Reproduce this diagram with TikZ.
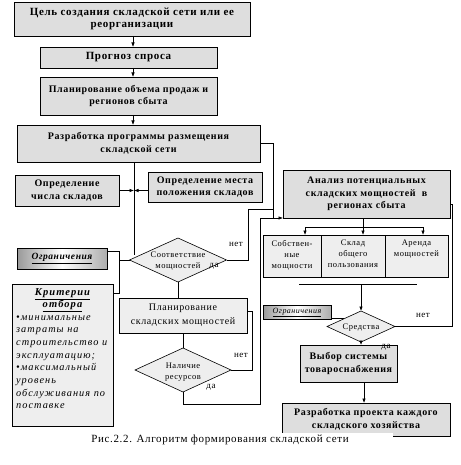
\documentclass[tikz,border=0pt]{standalone}
\usepackage{fontspec}
\setmainfont{Liberation Serif}
\newfontfamily\ls[LetterSpace=6]{Liberation Serif}
\newfontfamily\lsw[LetterSpace=10]{Liberation Serif}
\usetikzlibrary{shapes.geometric,arrows.meta}
\definecolor{marble}{RGB}{222,222,222}
\definecolor{dots}{RGB}{238,238,238}
\tikzset{
  box/.style={draw, fill=marble, line width=0.9pt, inner sep=0pt, outer sep=0pt, align=center,
    font=\ls\bfseries\fontsize{10}{12.7}\selectfont},
  bigbox/.style={box, font=\ls\bfseries\fontsize{11}{12.7}\selectfont},
  dbox/.style={draw, fill=dots, line width=0.6pt, inner sep=0pt, outer sep=0pt, align=center,
    font=\ls\fontsize{8.5}{11.5}\selectfont},
  dia/.style={diamond, draw, fill=dots, line width=0.6pt, inner sep=0pt, outer sep=0pt},
  diatext/.style={align=center, inner sep=0pt, font=\ls\fontsize{8.5}{11}\selectfont},
  limbox/.style={draw, line width=0.8pt, left color=gray!80, right color=gray!65, middle color=white,
    inner sep=0pt, outer sep=0pt},
  ln/.style={line width=0.6pt},
  arr/.style={ln, -{Latex[length=4.5pt,width=3.5pt]}},
  lbl/.style={inner sep=0pt, font=\ls\fontsize{9}{10}\selectfont},
}
\begin{document}
\begin{tikzpicture}[x=1pt,y=-1pt]
\useasboundingbox (0,0) rectangle (460,465);

% main column
\node[bigbox, minimum width=236pt, minimum height=34pt] (goal) at (132,19)
  {Цель создания складской сети или ее\\реорганизации};
\node[bigbox, minimum width=177pt, minimum height=21pt] (prog) at (128.5,57.5) {Прогноз спроса};
\node[box, minimum width=177pt, minimum height=38pt] (plan1) at (128.5,96)
  {Планирование объема продаж и\\регионов сбыта};
\node[box, minimum width=243pt, minimum height=37pt] (dev) at (138.5,143.5)
  {Разработка программы размещения\\складской сети};
\node[box, minimum width=104pt, minimum height=31pt] (num) at (67,190.5)
  {Определение\\числа складов};
\node[box, minimum width=114pt, minimum height=30pt] (loc) at (205,187)
  {Определение места\\положения складов};

% left side
\node[limbox, minimum width=90pt, minimum height=21pt,
  font=\ls\bfseries\itshape\fontsize{9.5}{10}\selectfont] (lim1) at (62,258.5) {\underline{Ограничения}};
\node[draw, fill=dots, line width=0.8pt, minimum width=101pt, minimum height=142pt,
  inner sep=0pt, outer sep=0pt] (crit) at (62.5,355) {};
\node[inner sep=0pt, align=center, anchor=north,
  font=\lsw\bfseries\itshape\fontsize{10.5}{12.7}\selectfont] (crittitle) at (62.5,288)
  {\underline{Критерии}\\\underline{отбора}};
\node[inner sep=0pt, align=left, anchor=north west,
  font=\lsw\itshape\fontsize{10.3}{12.7}\selectfont] (crittext) at (16,315)
  {•минимальные\\затраты на\\строительство и\\эксплуатацию;\\•максимальный\\уровень\\обслуживания по\\поставке};

% middle decisions
\node[dia, minimum width=97pt, minimum height=44pt] (match) at (178,260) {};
\node[diatext] at (178,261.5) {Соответствие\\мощностей};
\node[dbox, minimum width=128pt, minimum height=35pt, font=\ls\fontsize{10}{14}\selectfont] (plan2) at (183,315.5)
  {Планирование\\складских мощностей};
\node[dia, minimum width=96pt, minimum height=44pt] (res) at (183,370) {};
\node[diatext] at (183,372) {Наличие\\ресурсов};

% right side
\node[box, minimum width=167pt, minimum height=48pt] (anal) at (366.5,194)
  {Анализ потенциальных\\складских мощностей\ \ в\\регионах сбыта};
\node[dbox, minimum width=58pt, minimum height=42pt] (own) at (292,256) {};
\node[dbox, minimum width=64pt, minimum height=42pt] (pub) at (353,256) {};
\node[dbox, minimum width=63pt, minimum height=42pt] (rent) at (416.5,256) {};
\node[diatext, anchor=north] at (292,240) {Собствен-\\ные\\мощности};
\node[diatext, anchor=north] at (353,240) {Склад\\общего\\пользования};
\node[diatext, anchor=north] at (416.5,240) {Аренда\\мощностей};
\node[limbox, minimum width=68pt, minimum height=14pt,
  font=\ls\itshape\fontsize{8}{9}\selectfont] (lim2) at (297,312.5) {\underline{Ограничения}};
\node[dia, minimum width=68pt, minimum height=31pt] (means) at (361,326.5) {};
\node[diatext] at (361,328) {Средства};
\node[box, minimum width=97pt, minimum height=37pt] (choice) at (348.5,363.5)
  {Выбор системы\\товароснабжения};
\node[box, minimum width=168pt, minimum height=33pt] (proj) at (366,419.5)
  {Разработка проекта каждого\\складского хозяйства};

% coordinates
\coordinate (cx) at (133,0);
\coordinate (c1) at (134,0);
\coordinate (m1) at (134,255);
\coordinate (j1) at (273,219);
\coordinate (j2) at (248,209);
\coordinate (j3) at (273,209);
\coordinate (j4) at (260,404);
\coordinate (j5) at (252,311);
\coordinate (j6) at (119,251);
\coordinate (j7) at (119,293);
\coordinate (k1) at (305,227);
\coordinate (k2) at (363,227);
\coordinate (k3) at (423,227);
\coordinate (h1) at (299,284);
\coordinate (h2) at (417,284);
\coordinate (h3) at (361,284);
\coordinate (n1) at (452,204);
\coordinate (p1) at (364,0);

% connectors
\draw[arr] (goal.south -| cx) -- (prog.north -| cx);
\draw[arr] (prog.south -| cx) -- (plan1.north -| cx);
\draw[arr] (plan1.south -| cx) -- (dev.north -| cx);
\draw[ln] (dev.south -| c1) -- (m1);
\draw[arr] (num.east) -- (num.east -| c1);
\draw[arr] (loc.west |- num.east) -- (num.east -| c1);
\draw[ln] (dev.east) -| (j1);
\draw[ln] (match.east) -| (j2) -- (j3);
\draw[arr] (res.south) |- (j4) |- (anal.south west);
\draw[ln] (match.south) -- (plan2.north -| match.south);
\draw[ln] (plan2.south -| res.north) -- (res.north);
\draw[ln] (res.east) -| (j5) -- (plan2.east |- j5);
\draw[ln] (lim1.east |- j6) -- (j6) -- (j7) -- (crit.east |- j7);
\draw[ln] (j6 |- match.west) -- (match.west);
\draw[ln] (anal.south -| k2) -- (k2);
\draw[ln] (k1) -- (k3);
\draw[arr] (k1) -- (own.north -| k1);
\draw[arr] (k2) -- (pub.north -| k2);
\draw[arr] (k3) -- (rent.north -| k3);
\draw[ln] (h1) -- (h2);
\draw[arr] (h3) -- (means.north);
\draw[ln] (means.east) -| (n1) -- (anal.east |- n1);
\draw[ln] (lim2.east |- means.north west) -- (means.north west);
\draw[arr] (means.south) -- (choice.north -| means.south);
\draw[arr] (choice.south -| p1) -- (proj.north -| p1);

% labels
\node[lbl] at (236,244) {нет};
\node[lbl] at (214,266) {да};
\node[lbl] at (241,355) {нет};
\node[lbl] at (211,387) {да};
\node[lbl] at (423,315) {нет};
\node[lbl] at (386,347) {да};

% caption
\node[fill=white, inner xsep=0pt, inner ysep=1.5pt, minimum width=346pt, anchor=base,
  font=\ls\fontsize{11}{12}\selectfont] (cap) at (220,442)
  {Рис.2.2. Алгоритм формирования складской сети};
\end{tikzpicture}
\end{document}
